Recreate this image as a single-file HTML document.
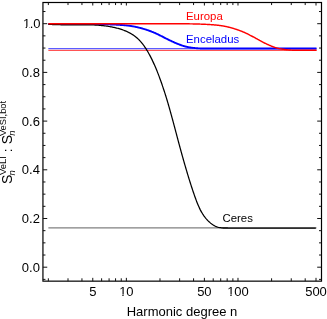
<!DOCTYPE html><html><head><meta charset="utf-8"><style>html,body{margin:0;padding:0;background:#fff}</style></head><body><svg width="327" height="319" viewBox="0 0 327 319" style="display:block;will-change:transform"><rect x="0" y="0" width="327" height="319" fill="#fff"/><line x1="48.35" x2="316.51" y1="227.95" y2="227.95" stroke="#808080" stroke-width="1.2"/><line x1="48.35" x2="316.51" y1="50.35" y2="50.35" stroke="#ff0000" stroke-width="0.8"/><line x1="48.35" x2="316.51" y1="48.7" y2="48.7" stroke="#0000ff" stroke-width="0.8"/><path d="M48.35,23.97 L48.80,23.97 L49.25,23.97 L49.69,23.98 L50.14,23.98 L50.59,23.98 L51.04,23.98 L51.48,23.99 L51.93,23.99 L52.38,23.99 L52.83,23.99 L53.28,23.99 L53.72,23.99 L54.17,24.00 L54.62,24.00 L55.07,24.00 L55.51,24.00 L55.96,24.00 L56.41,24.00 L56.86,24.00 L57.30,24.00 L57.75,24.00 L58.20,24.00 L58.65,24.00 L59.10,24.00 L59.54,24.00 L59.99,24.01 L60.44,24.01 L60.89,24.01 L61.33,24.01 L61.78,24.01 L62.23,24.01 L62.68,24.01 L63.12,24.01 L63.57,24.01 L64.02,24.01 L64.47,24.01 L64.91,24.01 L65.36,24.01 L65.81,24.01 L66.26,24.01 L66.71,24.01 L67.15,24.01 L67.60,24.01 L68.05,24.01 L68.50,24.01 L68.94,24.01 L69.39,24.01 L69.84,24.01 L70.29,24.01 L70.73,24.01 L71.18,24.01 L71.63,24.01 L72.08,24.01 L72.53,24.01 L72.97,24.01 L73.42,24.01 L73.87,24.01 L74.32,24.01 L74.76,24.01 L75.21,24.01 L75.66,24.01 L76.11,24.01 L76.55,24.01 L77.00,24.01 L77.45,24.01 L77.90,24.01 L78.35,24.01 L78.79,24.01 L79.24,24.01 L79.69,24.01 L80.14,24.01 L80.58,24.01 L81.03,24.01 L81.48,24.01 L81.93,24.01 L82.37,24.01 L82.82,24.01 L83.27,24.01 L83.72,24.01 L84.17,24.01 L84.61,24.01 L85.06,24.01 L85.51,24.01 L85.96,24.02 L86.40,24.02 L86.85,24.02 L87.30,24.02 L87.75,24.02 L88.19,24.03 L88.64,24.03 L89.09,24.03 L89.54,24.04 L89.98,24.04 L90.43,24.04 L90.88,24.05 L91.33,24.05 L91.78,24.06 L92.22,24.06 L92.67,24.06 L93.12,24.07 L93.57,24.07 L94.01,24.08 L94.46,24.08 L94.91,24.09 L95.36,24.10 L95.80,24.10 L96.25,24.11 L96.70,24.11 L97.15,24.12 L97.60,24.13 L98.04,24.13 L98.49,24.14 L98.94,24.15 L99.39,24.16 L99.83,24.16 L100.28,24.17 L100.73,24.18 L101.18,24.19 L101.62,24.20 L102.07,24.21 L102.52,24.22 L102.97,24.23 L103.42,24.24 L103.86,24.25 L104.31,24.26 L104.76,24.27 L105.21,24.28 L105.65,24.29 L106.10,24.30 L106.55,24.32 L107.00,24.33 L107.44,24.34 L107.89,24.35 L108.34,24.37 L108.79,24.38 L109.23,24.40 L109.68,24.41 L110.13,24.43 L110.58,24.44 L111.03,24.46 L111.47,24.48 L111.92,24.49 L112.37,24.51 L112.82,24.53 L113.26,24.55 L113.71,24.57 L114.16,24.59 L114.61,24.61 L115.05,24.63 L115.50,24.65 L115.95,24.67 L116.40,24.70 L116.85,24.72 L117.29,24.74 L117.74,24.77 L118.19,24.79 L118.64,24.82 L119.08,24.85 L119.53,24.88 L119.98,24.90 L120.43,24.93 L120.87,24.97 L121.32,25.00 L121.77,25.03 L122.22,25.06 L122.67,25.10 L123.11,25.13 L123.56,25.17 L124.01,25.21 L124.46,25.25 L124.90,25.29 L125.35,25.33 L125.80,25.38 L126.25,25.43 L126.69,25.47 L127.14,25.52 L127.59,25.57 L128.04,25.63 L128.49,25.68 L128.93,25.74 L129.38,25.80 L129.83,25.86 L130.28,25.93 L130.72,25.99 L131.17,26.06 L131.62,26.13 L132.07,26.20 L132.51,26.28 L132.96,26.35 L133.41,26.43 L133.86,26.51 L134.30,26.60 L134.75,26.69 L135.20,26.78 L135.65,26.87 L136.10,26.96 L136.54,27.06 L136.99,27.16 L137.44,27.26 L137.89,27.37 L138.33,27.47 L138.78,27.58 L139.23,27.70 L139.68,27.81 L140.12,27.93 L140.57,28.04 L141.02,28.16 L141.47,28.28 L141.92,28.41 L142.36,28.53 L142.81,28.66 L143.26,28.79 L143.71,28.92 L144.15,29.05 L144.60,29.19 L145.05,29.32 L145.50,29.46 L145.94,29.60 L146.39,29.75 L146.84,29.89 L147.29,30.04 L147.74,30.19 L148.18,30.35 L148.63,30.50 L149.08,30.66 L149.53,30.83 L149.97,30.99 L150.42,31.16 L150.87,31.33 L151.32,31.50 L151.76,31.68 L152.21,31.85 L152.66,32.04 L153.11,32.22 L153.55,32.41 L154.00,32.60 L154.45,32.79 L154.90,32.99 L155.35,33.19 L155.79,33.39 L156.24,33.59 L156.69,33.80 L157.14,34.01 L157.58,34.22 L158.03,34.43 L158.48,34.65 L158.93,34.87 L159.37,35.09 L159.82,35.31 L160.27,35.54 L160.72,35.76 L161.17,35.99 L161.61,36.22 L162.06,36.44 L162.51,36.67 L162.96,36.90 L163.40,37.13 L163.85,37.36 L164.30,37.59 L164.75,37.82 L165.19,38.05 L165.64,38.28 L166.09,38.51 L166.54,38.74 L166.99,38.96 L167.43,39.19 L167.88,39.41 L168.33,39.63 L168.78,39.85 L169.22,40.07 L169.67,40.29 L170.12,40.51 L170.57,40.72 L171.01,40.93 L171.46,41.14 L171.91,41.35 L172.36,41.56 L172.80,41.76 L173.25,41.97 L173.70,42.17 L174.15,42.37 L174.60,42.56 L175.04,42.76 L175.49,42.95 L175.94,43.14 L176.39,43.33 L176.83,43.51 L177.28,43.70 L177.73,43.88 L178.18,44.06 L178.62,44.23 L179.07,44.41 L179.52,44.58 L179.97,44.75 L180.42,44.92 L180.86,45.09 L181.31,45.25 L181.76,45.41 L182.21,45.57 L182.65,45.72 L183.10,45.86 L183.55,46.00 L184.00,46.13 L184.44,46.25 L184.89,46.37 L185.34,46.49 L185.79,46.60 L186.24,46.70 L186.68,46.80 L187.13,46.90 L187.58,46.99 L188.03,47.08 L188.47,47.16 L188.92,47.24 L189.37,47.32 L189.82,47.39 L190.26,47.46 L190.71,47.53 L191.16,47.59 L191.61,47.65 L192.06,47.71 L192.50,47.77 L192.95,47.82 L193.40,47.88 L193.85,47.93 L194.29,47.98 L194.74,48.02 L195.19,48.07 L195.64,48.11 L196.08,48.15 L196.53,48.19 L196.98,48.23 L197.43,48.27 L197.87,48.30 L198.32,48.33 L198.77,48.36 L199.22,48.39 L199.67,48.41 L200.11,48.43 L200.56,48.45 L201.01,48.47 L201.46,48.48 L201.90,48.49 L202.35,48.50 L202.80,48.51 L203.25,48.51 L203.69,48.52 L204.14,48.52 L204.59,48.52 L205.04,48.54 L205.49,48.55 L205.93,48.55 L206.38,48.55 L206.83,48.54 L207.28,48.55 L207.72,48.55 L208.17,48.55 L208.62,48.55 L209.07,48.55 L209.51,48.54 L209.96,48.55 L210.41,48.55 L210.86,48.55 L211.31,48.55 L211.75,48.55 L212.20,48.55 L212.65,48.55 L213.10,48.55 L213.54,48.55 L213.99,48.55 L214.44,48.55 L214.89,48.55 L215.33,48.55 L215.78,48.55 L216.23,48.55 L216.68,48.55 L217.12,48.55 L217.57,48.55 L218.02,48.55 L218.47,48.55 L218.92,48.55 L219.36,48.55 L219.81,48.55 L220.26,48.55 L220.71,48.55 L221.15,48.55 L221.60,48.55 L222.05,48.55 L222.50,48.55 L222.94,48.55 L223.39,48.55 L223.84,48.55 L224.29,48.55 L224.74,48.55 L225.18,48.55 L225.63,48.55 L226.08,48.55 L226.53,48.55 L226.97,48.55 L227.42,48.55 L227.87,48.55 L228.32,48.55 L228.76,48.55 L229.21,48.55 L229.66,48.55 L230.11,48.55 L230.56,48.55 L231.00,48.55 L231.45,48.55 L231.90,48.55 L232.35,48.55 L232.79,48.55 L233.24,48.55 L233.69,48.55 L234.14,48.55 L234.58,48.55 L235.03,48.55 L235.48,48.55 L235.93,48.55 L236.37,48.55 L236.82,48.55 L237.27,48.55 L237.72,48.55 L238.17,48.55 L238.61,48.55 L239.06,48.55 L239.51,48.55 L239.96,48.55 L240.40,48.55 L240.85,48.55 L241.30,48.55 L241.75,48.55 L242.19,48.55 L242.64,48.55 L243.09,48.55 L243.54,48.55 L243.99,48.55 L244.43,48.55 L244.88,48.55 L245.33,48.55 L245.78,48.55 L246.22,48.55 L246.67,48.55 L247.12,48.55 L247.57,48.55 L248.01,48.55 L248.46,48.55 L248.91,48.55 L249.36,48.55 L249.81,48.55 L250.25,48.55 L250.70,48.55 L251.15,48.55 L251.60,48.55 L252.04,48.55 L252.49,48.55 L252.94,48.55 L253.39,48.55 L253.83,48.55 L254.28,48.55 L254.73,48.55 L255.18,48.55 L255.63,48.55 L256.07,48.55 L256.52,48.55 L256.97,48.55 L257.42,48.55 L257.86,48.55 L258.31,48.55 L258.76,48.55 L259.21,48.55 L259.65,48.55 L260.10,48.55 L260.55,48.55 L261.00,48.55 L261.44,48.55 L261.89,48.55 L262.34,48.55 L262.79,48.55 L263.24,48.55 L263.68,48.55 L264.13,48.55 L264.58,48.55 L265.03,48.55 L265.47,48.55 L265.92,48.55 L266.37,48.55 L266.82,48.55 L267.26,48.55 L267.71,48.55 L268.16,48.55 L268.61,48.55 L269.06,48.55 L269.50,48.55 L269.95,48.55 L270.40,48.55 L270.85,48.55 L271.29,48.55 L271.74,48.55 L272.19,48.55 L272.64,48.55 L273.08,48.55 L273.53,48.55 L273.98,48.55 L274.43,48.55 L274.88,48.55 L275.32,48.55 L275.77,48.55 L276.22,48.55 L276.67,48.55 L277.11,48.55 L277.56,48.55 L278.01,48.55 L278.46,48.55 L278.90,48.55 L279.35,48.55 L279.80,48.55 L280.25,48.55 L280.69,48.55 L281.14,48.55 L281.59,48.55 L282.04,48.55 L282.49,48.55 L282.93,48.55 L283.38,48.55 L283.83,48.55 L284.28,48.55 L284.72,48.55 L285.17,48.55 L285.62,48.55 L286.07,48.55 L286.51,48.55 L286.96,48.55 L287.41,48.55 L287.86,48.55 L288.31,48.55 L288.75,48.55 L289.20,48.55 L289.65,48.55 L290.10,48.55 L290.54,48.55 L290.99,48.55 L291.44,48.55 L291.89,48.55 L292.33,48.55 L292.78,48.55 L293.23,48.55 L293.68,48.55 L294.13,48.55 L294.57,48.55 L295.02,48.55 L295.47,48.55 L295.92,48.55 L296.36,48.55 L296.81,48.55 L297.26,48.55 L297.71,48.55 L298.15,48.55 L298.60,48.55 L299.05,48.55 L299.50,48.55 L299.95,48.55 L300.39,48.55 L300.84,48.55 L301.29,48.55 L301.74,48.55 L302.18,48.55 L302.63,48.55 L303.08,48.55 L303.53,48.55 L303.97,48.55 L304.42,48.55 L304.87,48.55 L305.32,48.55 L305.76,48.55 L306.21,48.55 L306.66,48.55 L307.11,48.55 L307.56,48.55 L308.00,48.55 L308.45,48.55 L308.90,48.55 L309.35,48.55 L309.79,48.55 L310.24,48.55 L310.69,48.55 L311.14,48.55 L311.58,48.55 L312.03,48.55 L312.48,48.55 L312.93,48.55 L313.38,48.55 L313.82,48.55 L314.27,48.55 L314.72,48.55 L315.17,48.55 L315.61,48.55 L316.06,48.55 L316.51,48.55" fill="none" stroke="#0000ff" stroke-width="1.9"/><path d="M48.35,24.28 L49.16,24.34 L50.00,24.40 L50.84,24.45 L51.68,24.49 L52.52,24.53 L53.36,24.57 L54.20,24.61 L55.04,24.64 L55.88,24.66 L56.72,24.69 L57.56,24.71 L58.39,24.73 L59.23,24.74 L60.07,24.75 L60.90,24.76 L61.74,24.77 L62.57,24.78 L63.40,24.78 L64.24,24.79 L65.07,24.79 L65.90,24.79 L66.74,24.79 L67.57,24.79 L68.40,24.79 L69.23,24.79 L70.06,24.79 L70.89,24.79 L71.72,24.79 L72.55,24.79 L73.38,24.79 L74.21,24.79 L75.04,24.79 L75.87,24.79 L76.70,24.79 L77.53,24.79 L78.36,24.79 L79.19,24.79 L80.02,24.79 L80.85,24.79 L81.68,24.79 L82.51,24.79 L83.33,24.79 L84.16,24.79 L84.99,24.79 L85.82,24.79 L86.65,24.79 L87.48,24.79 L88.31,24.79 L89.14,24.79 L89.97,24.80 L90.80,24.83 L91.63,24.86 L92.46,24.89 L93.29,24.93 L94.12,24.97 L94.95,25.01 L95.78,25.06 L96.61,25.11 L97.44,25.17 L98.27,25.23 L99.11,25.29 L99.94,25.36 L100.77,25.44 L101.61,25.52 L102.44,25.60 L103.27,25.69 L104.11,25.79 L104.94,25.89 L105.78,26.00 L106.61,26.12 L107.45,26.24 L108.29,26.36 L109.12,26.50 L109.96,26.64 L110.79,26.78 L111.63,26.94 L112.46,27.10 L113.29,27.27 L114.12,27.45 L114.94,27.63 L115.77,27.83 L116.59,28.03 L117.40,28.24 L118.22,28.46 L119.03,28.69 L119.83,28.93 L120.63,29.18 L121.43,29.44 L122.22,29.70 L123.00,29.98 L123.78,30.27 L124.55,30.57 L125.32,30.88 L126.08,31.20 L126.83,31.53 L127.58,31.88 L128.31,32.23 L129.04,32.60 L129.76,32.98 L130.48,33.37 L131.18,33.78 L131.88,34.19 L132.56,34.62 L133.24,35.07 L133.90,35.52 L134.56,35.99 L135.20,36.47 L135.83,36.97 L136.45,37.48 L137.06,38.01 L137.66,38.55 L138.25,39.10 L138.83,39.67 L139.40,40.24 L139.95,40.83 L140.50,41.43 L141.04,42.04 L141.57,42.66 L142.09,43.30 L142.60,43.94 L143.10,44.59 L143.59,45.25 L144.08,45.92 L144.55,46.59 L145.02,47.28 L145.48,47.97 L145.93,48.66 L146.38,49.37 L146.82,50.08 L147.25,50.79 L147.68,51.51 L148.10,52.24 L148.51,52.97 L148.92,53.70 L149.32,54.43 L149.72,55.17 L150.11,55.91 L150.50,56.66 L150.88,57.40 L151.26,58.15 L151.64,58.89 L152.01,59.64 L152.37,60.39 L152.72,61.14 L153.06,61.88 L153.40,62.63 L153.74,63.38 L154.08,64.12 L154.41,64.87 L154.74,65.62 L155.06,66.36 L155.39,67.11 L155.70,67.86 L156.02,68.61 L156.33,69.36 L156.64,70.11 L156.95,70.86 L157.25,71.61 L157.56,72.37 L157.85,73.12 L158.15,73.87 L158.44,74.63 L158.73,75.39 L159.02,76.14 L159.31,76.90 L159.59,77.66 L159.87,78.42 L160.15,79.19 L160.43,79.95 L160.70,80.72 L160.97,81.48 L161.24,82.25 L161.51,83.02 L161.77,83.79 L162.04,84.57 L162.30,85.34 L162.55,86.12 L162.81,86.89 L163.08,87.67 L163.34,88.45 L163.60,89.23 L163.86,90.01 L164.12,90.79 L164.38,91.57 L164.63,92.36 L164.89,93.14 L165.14,93.93 L165.39,94.72 L165.64,95.50 L165.89,96.29 L166.13,97.08 L166.37,97.87 L166.62,98.67 L166.86,99.46 L167.10,100.25 L167.34,101.05 L167.57,101.84 L167.81,102.64 L168.04,103.43 L168.27,104.23 L168.50,105.03 L168.73,105.82 L168.96,106.62 L169.19,107.42 L169.42,108.22 L169.64,109.02 L169.87,109.82 L170.09,110.62 L170.31,111.43 L170.53,112.23 L170.75,113.03 L170.97,113.83 L171.19,114.64 L171.41,115.44 L171.64,116.25 L171.86,117.05 L172.08,117.85 L172.30,118.66 L172.52,119.46 L172.74,120.27 L172.96,121.07 L173.17,121.88 L173.39,122.68 L173.61,123.49 L173.82,124.30 L174.04,125.10 L174.25,125.91 L174.47,126.71 L174.68,127.52 L174.90,128.32 L175.11,129.13 L175.33,129.93 L175.54,130.74 L175.75,131.54 L175.97,132.35 L176.18,133.15 L176.39,133.96 L176.60,134.76 L176.82,135.56 L177.03,136.37 L177.24,137.17 L177.45,137.97 L177.67,138.77 L177.88,139.58 L178.09,140.38 L178.30,141.18 L178.52,141.98 L178.73,142.78 L178.94,143.58 L179.16,144.38 L179.38,145.18 L179.59,145.98 L179.81,146.78 L180.03,147.58 L180.25,148.38 L180.46,149.18 L180.68,149.98 L180.90,150.77 L181.12,151.57 L181.34,152.37 L181.56,153.17 L181.78,153.96 L182.00,154.76 L182.23,155.56 L182.45,156.35 L182.67,157.15 L182.89,157.95 L183.12,158.74 L183.34,159.54 L183.57,160.33 L183.79,161.13 L184.02,161.92 L184.25,162.72 L184.48,163.51 L184.71,164.30 L184.94,165.10 L185.17,165.89 L185.40,166.68 L185.63,167.48 L185.86,168.27 L186.10,169.06 L186.33,169.86 L186.57,170.65 L186.80,171.44 L187.03,172.23 L187.27,173.02 L187.50,173.81 L187.74,174.61 L187.98,175.40 L188.22,176.19 L188.46,176.98 L188.70,177.77 L188.94,178.56 L189.19,179.35 L189.43,180.14 L189.68,180.93 L189.93,181.72 L190.18,182.51 L190.43,183.30 L190.68,184.09 L190.93,184.88 L191.19,185.67 L191.44,186.46 L191.70,187.25 L191.96,188.03 L192.22,188.82 L192.48,189.61 L192.75,190.40 L193.01,191.19 L193.28,191.98 L193.55,192.76 L193.82,193.55 L194.09,194.34 L194.36,195.13 L194.64,195.92 L194.92,196.70 L195.20,197.49 L195.48,198.28 L195.76,199.06 L196.05,199.85 L196.34,200.64 L196.64,201.42 L196.94,202.20 L197.25,202.98 L197.56,203.76 L197.88,204.54 L198.21,205.31 L198.54,206.08 L198.88,206.84 L199.23,207.60 L199.59,208.36 L199.96,209.11 L200.33,209.86 L200.72,210.60 L201.12,211.34 L201.53,212.07 L201.95,212.79 L202.38,213.50 L202.83,214.21 L203.29,214.91 L203.76,215.61 L204.25,216.29 L204.75,216.97 L205.27,217.64 L205.81,218.30 L206.36,218.94 L206.94,219.58 L207.52,220.21 L208.13,220.83 L208.76,221.44 L209.41,222.03 L210.07,222.61 L210.75,223.18 L211.44,223.72 L212.14,224.24 L212.85,224.74 L213.56,225.20 L214.27,225.64 L214.98,226.03 L215.68,226.39 L216.37,226.70 L217.05,226.97 L217.73,227.19 L218.41,227.37 L219.10,227.51 L219.81,227.63 L220.55,227.71 L221.34,227.78 L222.17,227.83 L223.07,227.87 L224.03,227.90 L225.08,227.93 L226.21,227.96 L227.34,227.99 L228.38,228.02 L229.23,228.05 L229.78,228.05 L229.94,228.05 L229.64,228.05 L228.95,228.05 L227.98,228.05 L226.84,228.05 L225.64,228.05 L224.50,228.05 L223.53,228.05 L222.83,228.05 L222.52,228.05 L222.68,228.05 L223.24,228.05 L224.10,228.05 L225.15,228.05 L226.29,228.05 L227.42,228.05 L228.43,228.05 L229.35,228.05 L230.19,228.05 L230.98,228.05 L231.75,228.05 L232.52,228.05 L233.31,228.05 L234.11,228.05 L234.93,228.05 L235.75,228.05 L236.58,228.05 L237.42,228.05 L238.26,228.05 L239.10,228.05 L239.95,228.05 L240.79,228.05 L241.63,228.05 L242.47,228.05 L243.30,228.05 L244.14,228.05 L244.98,228.05 L245.81,228.05 L246.65,228.05 L247.48,228.05 L248.32,228.05 L249.15,228.05 L249.98,228.05 L250.81,228.05 L251.65,228.05 L252.48,228.05 L253.31,228.05 L254.14,228.05 L254.98,228.05 L255.81,228.05 L256.64,228.05 L257.47,228.05 L258.30,228.05 L259.14,228.05 L259.97,228.05 L260.80,228.05 L261.64,228.05 L262.47,228.05 L263.30,228.05 L264.13,228.05 L264.97,228.05 L265.80,228.05 L266.63,228.05 L267.47,228.05 L268.30,228.05 L269.13,228.05 L269.97,228.05 L270.80,228.05 L271.63,228.05 L272.47,228.05 L273.30,228.05 L274.13,228.05 L274.97,228.05 L275.80,228.05 L276.64,228.05 L277.47,228.05 L278.30,228.05 L279.14,228.05 L279.97,228.05 L280.80,228.05 L281.64,228.05 L282.47,228.05 L283.31,228.05 L284.14,228.05 L284.97,228.05 L285.81,228.05 L286.64,228.05 L287.48,228.05 L288.31,228.05 L289.14,228.05 L289.98,228.05 L290.81,228.05 L291.64,228.05 L292.48,228.05 L293.31,228.05 L294.15,228.05 L294.98,228.05 L295.81,228.05 L296.65,228.05 L297.48,228.05 L298.31,228.05 L299.15,228.05 L299.98,228.05 L300.82,228.05 L301.65,228.05 L302.48,228.05 L303.32,228.05 L304.15,228.05 L304.98,228.05 L305.82,228.05 L306.65,228.05 L307.48,228.05 L308.32,228.05 L309.15,228.05 L309.98,228.05 L310.81,228.05 L311.65,228.05 L312.48,228.05 L313.31,228.05 L314.14,228.05 L314.98,228.05 L315.81,228.05" fill="none" stroke="#000" stroke-width="1.25"/><path d="M48.35,23.65 L48.80,23.65 L49.25,23.65 L49.69,23.65 L50.14,23.65 L50.59,23.65 L51.04,23.65 L51.48,23.65 L51.93,23.65 L52.38,23.65 L52.83,23.65 L53.28,23.65 L53.72,23.65 L54.17,23.65 L54.62,23.65 L55.07,23.65 L55.51,23.65 L55.96,23.65 L56.41,23.65 L56.86,23.65 L57.30,23.65 L57.75,23.65 L58.20,23.65 L58.65,23.65 L59.10,23.65 L59.54,23.65 L59.99,23.65 L60.44,23.65 L60.89,23.65 L61.33,23.65 L61.78,23.65 L62.23,23.65 L62.68,23.65 L63.12,23.65 L63.57,23.65 L64.02,23.65 L64.47,23.65 L64.91,23.65 L65.36,23.65 L65.81,23.65 L66.26,23.65 L66.71,23.65 L67.15,23.65 L67.60,23.65 L68.05,23.65 L68.50,23.65 L68.94,23.65 L69.39,23.65 L69.84,23.65 L70.29,23.65 L70.73,23.65 L71.18,23.65 L71.63,23.65 L72.08,23.65 L72.53,23.65 L72.97,23.65 L73.42,23.65 L73.87,23.65 L74.32,23.65 L74.76,23.65 L75.21,23.65 L75.66,23.65 L76.11,23.65 L76.55,23.65 L77.00,23.65 L77.45,23.65 L77.90,23.65 L78.35,23.65 L78.79,23.65 L79.24,23.65 L79.69,23.65 L80.14,23.65 L80.58,23.65 L81.03,23.65 L81.48,23.65 L81.93,23.65 L82.37,23.65 L82.82,23.65 L83.27,23.65 L83.72,23.65 L84.17,23.65 L84.61,23.65 L85.06,23.65 L85.51,23.65 L85.96,23.65 L86.40,23.65 L86.85,23.65 L87.30,23.65 L87.75,23.65 L88.19,23.65 L88.64,23.65 L89.09,23.65 L89.54,23.65 L89.98,23.65 L90.43,23.65 L90.88,23.65 L91.33,23.65 L91.78,23.65 L92.22,23.65 L92.67,23.65 L93.12,23.65 L93.57,23.65 L94.01,23.65 L94.46,23.65 L94.91,23.65 L95.36,23.65 L95.80,23.65 L96.25,23.65 L96.70,23.65 L97.15,23.65 L97.60,23.65 L98.04,23.65 L98.49,23.65 L98.94,23.65 L99.39,23.65 L99.83,23.65 L100.28,23.65 L100.73,23.65 L101.18,23.65 L101.62,23.65 L102.07,23.65 L102.52,23.65 L102.97,23.65 L103.42,23.65 L103.86,23.65 L104.31,23.65 L104.76,23.65 L105.21,23.65 L105.65,23.65 L106.10,23.65 L106.55,23.65 L107.00,23.65 L107.44,23.65 L107.89,23.65 L108.34,23.65 L108.79,23.65 L109.23,23.65 L109.68,23.65 L110.13,23.65 L110.58,23.65 L111.03,23.65 L111.47,23.65 L111.92,23.65 L112.37,23.65 L112.82,23.65 L113.26,23.65 L113.71,23.65 L114.16,23.65 L114.61,23.65 L115.05,23.65 L115.50,23.65 L115.95,23.65 L116.40,23.65 L116.85,23.65 L117.29,23.65 L117.74,23.65 L118.19,23.65 L118.64,23.65 L119.08,23.65 L119.53,23.65 L119.98,23.65 L120.43,23.65 L120.87,23.65 L121.32,23.65 L121.77,23.65 L122.22,23.65 L122.67,23.65 L123.11,23.65 L123.56,23.65 L124.01,23.65 L124.46,23.65 L124.90,23.65 L125.35,23.65 L125.80,23.65 L126.25,23.65 L126.69,23.65 L127.14,23.65 L127.59,23.65 L128.04,23.65 L128.49,23.65 L128.93,23.65 L129.38,23.65 L129.83,23.65 L130.28,23.65 L130.72,23.65 L131.17,23.65 L131.62,23.65 L132.07,23.65 L132.51,23.65 L132.96,23.65 L133.41,23.65 L133.86,23.65 L134.30,23.65 L134.75,23.65 L135.20,23.65 L135.65,23.65 L136.10,23.65 L136.54,23.65 L136.99,23.65 L137.44,23.65 L137.89,23.65 L138.33,23.65 L138.78,23.65 L139.23,23.65 L139.68,23.65 L140.12,23.65 L140.57,23.66 L141.02,23.66 L141.47,23.67 L141.92,23.67 L142.36,23.67 L142.81,23.68 L143.26,23.68 L143.71,23.68 L144.15,23.69 L144.60,23.69 L145.05,23.69 L145.50,23.69 L145.94,23.70 L146.39,23.70 L146.84,23.70 L147.29,23.70 L147.74,23.70 L148.18,23.71 L148.63,23.71 L149.08,23.71 L149.53,23.71 L149.97,23.71 L150.42,23.71 L150.87,23.71 L151.32,23.71 L151.76,23.71 L152.21,23.71 L152.66,23.71 L153.11,23.71 L153.55,23.72 L154.00,23.72 L154.45,23.72 L154.90,23.72 L155.35,23.72 L155.79,23.72 L156.24,23.72 L156.69,23.72 L157.14,23.72 L157.58,23.72 L158.03,23.72 L158.48,23.72 L158.93,23.72 L159.37,23.72 L159.82,23.72 L160.27,23.72 L160.72,23.72 L161.17,23.72 L161.61,23.72 L162.06,23.72 L162.51,23.72 L162.96,23.72 L163.40,23.72 L163.85,23.72 L164.30,23.72 L164.75,23.72 L165.19,23.72 L165.64,23.72 L166.09,23.72 L166.54,23.72 L166.99,23.72 L167.43,23.72 L167.88,23.72 L168.33,23.72 L168.78,23.72 L169.22,23.72 L169.67,23.72 L170.12,23.72 L170.57,23.72 L171.01,23.72 L171.46,23.72 L171.91,23.72 L172.36,23.72 L172.80,23.72 L173.25,23.72 L173.70,23.72 L174.15,23.72 L174.60,23.72 L175.04,23.72 L175.49,23.72 L175.94,23.72 L176.39,23.72 L176.83,23.72 L177.28,23.72 L177.73,23.72 L178.18,23.72 L178.62,23.73 L179.07,23.73 L179.52,23.73 L179.97,23.73 L180.42,23.74 L180.86,23.74 L181.31,23.74 L181.76,23.75 L182.21,23.75 L182.65,23.75 L183.10,23.76 L183.55,23.76 L184.00,23.77 L184.44,23.77 L184.89,23.78 L185.34,23.78 L185.79,23.79 L186.24,23.79 L186.68,23.80 L187.13,23.81 L187.58,23.81 L188.03,23.82 L188.47,23.83 L188.92,23.83 L189.37,23.84 L189.82,23.85 L190.26,23.86 L190.71,23.86 L191.16,23.87 L191.61,23.88 L192.06,23.89 L192.50,23.90 L192.95,23.91 L193.40,23.92 L193.85,23.93 L194.29,23.94 L194.74,23.95 L195.19,23.96 L195.64,23.97 L196.08,23.98 L196.53,24.00 L196.98,24.01 L197.43,24.02 L197.87,24.04 L198.32,24.05 L198.77,24.06 L199.22,24.08 L199.67,24.09 L200.11,24.11 L200.56,24.12 L201.01,24.14 L201.46,24.16 L201.90,24.17 L202.35,24.19 L202.80,24.21 L203.25,24.23 L203.69,24.25 L204.14,24.27 L204.59,24.29 L205.04,24.31 L205.49,24.33 L205.93,24.35 L206.38,24.38 L206.83,24.40 L207.28,24.42 L207.72,24.45 L208.17,24.47 L208.62,24.50 L209.07,24.53 L209.51,24.55 L209.96,24.58 L210.41,24.61 L210.86,24.64 L211.31,24.67 L211.75,24.71 L212.20,24.74 L212.65,24.77 L213.10,24.81 L213.54,24.84 L213.99,24.88 L214.44,24.92 L214.89,24.96 L215.33,25.00 L215.78,25.04 L216.23,25.09 L216.68,25.13 L217.12,25.18 L217.57,25.23 L218.02,25.28 L218.47,25.33 L218.92,25.39 L219.36,25.44 L219.81,25.50 L220.26,25.56 L220.71,25.62 L221.15,25.69 L221.60,25.76 L222.05,25.83 L222.50,25.90 L222.94,25.97 L223.39,26.05 L223.84,26.13 L224.29,26.21 L224.74,26.29 L225.18,26.38 L225.63,26.47 L226.08,26.56 L226.53,26.66 L226.97,26.76 L227.42,26.86 L227.87,26.96 L228.32,27.07 L228.76,27.18 L229.21,27.29 L229.66,27.40 L230.11,27.52 L230.56,27.64 L231.00,27.76 L231.45,27.89 L231.90,28.01 L232.35,28.14 L232.79,28.27 L233.24,28.41 L233.69,28.54 L234.14,28.68 L234.58,28.82 L235.03,28.96 L235.48,29.10 L235.93,29.24 L236.37,29.39 L236.82,29.54 L237.27,29.69 L237.72,29.84 L238.17,30.00 L238.61,30.16 L239.06,30.32 L239.51,30.48 L239.96,30.65 L240.40,30.82 L240.85,30.99 L241.30,31.17 L241.75,31.34 L242.19,31.52 L242.64,31.71 L243.09,31.90 L243.54,32.09 L243.99,32.28 L244.43,32.47 L244.88,32.67 L245.33,32.88 L245.78,33.08 L246.22,33.29 L246.67,33.50 L247.12,33.72 L247.57,33.93 L248.01,34.15 L248.46,34.38 L248.91,34.60 L249.36,34.83 L249.81,35.06 L250.25,35.30 L250.70,35.53 L251.15,35.77 L251.60,36.01 L252.04,36.26 L252.49,36.50 L252.94,36.74 L253.39,36.99 L253.83,37.24 L254.28,37.49 L254.73,37.74 L255.18,37.99 L255.63,38.24 L256.07,38.49 L256.52,38.73 L256.97,38.98 L257.42,39.23 L257.86,39.48 L258.31,39.72 L258.76,39.97 L259.21,40.21 L259.65,40.46 L260.10,40.70 L260.55,40.94 L261.00,41.18 L261.44,41.41 L261.89,41.65 L262.34,41.88 L262.79,42.11 L263.24,42.34 L263.68,42.56 L264.13,42.79 L264.58,43.01 L265.03,43.23 L265.47,43.45 L265.92,43.66 L266.37,43.87 L266.82,44.08 L267.26,44.29 L267.71,44.50 L268.16,44.70 L268.61,44.90 L269.06,45.10 L269.50,45.30 L269.95,45.49 L270.40,45.68 L270.85,45.87 L271.29,46.06 L271.74,46.25 L272.19,46.43 L272.64,46.61 L273.08,46.78 L273.53,46.96 L273.98,47.12 L274.43,47.28 L274.88,47.43 L275.32,47.58 L275.77,47.72 L276.22,47.85 L276.67,47.98 L277.11,48.10 L277.56,48.22 L278.01,48.33 L278.46,48.43 L278.90,48.54 L279.35,48.63 L279.80,48.72 L280.25,48.81 L280.69,48.90 L281.14,48.98 L281.59,49.05 L282.04,49.13 L282.49,49.20 L282.93,49.27 L283.38,49.33 L283.83,49.40 L284.28,49.46 L284.72,49.51 L285.17,49.57 L285.62,49.62 L286.07,49.68 L286.51,49.73 L286.96,49.77 L287.41,49.82 L287.86,49.86 L288.31,49.90 L288.75,49.94 L289.20,49.98 L289.65,50.01 L290.10,50.04 L290.54,50.07 L290.99,50.10 L291.44,50.12 L291.89,50.14 L292.33,50.16 L292.78,50.17 L293.23,50.19 L293.68,50.20 L294.13,50.20 L294.57,50.21 L295.02,50.21 L295.47,50.22 L295.92,50.22 L296.36,50.25 L296.81,50.25 L297.26,50.25 L297.71,50.25 L298.15,50.25 L298.60,50.25 L299.05,50.24 L299.50,50.25 L299.95,50.25 L300.39,50.24 L300.84,50.25 L301.29,50.25 L301.74,50.25 L302.18,50.25 L302.63,50.25 L303.08,50.25 L303.53,50.25 L303.97,50.25 L304.42,50.25 L304.87,50.25 L305.32,50.25 L305.76,50.25 L306.21,50.25 L306.66,50.25 L307.11,50.25 L307.56,50.25 L308.00,50.25 L308.45,50.25 L308.90,50.25 L309.35,50.25 L309.79,50.25 L310.24,50.25 L310.69,50.25 L311.14,50.25 L311.58,50.25 L312.03,50.25 L312.48,50.25 L312.93,50.25 L313.38,50.25 L313.82,50.25 L314.27,50.25 L314.72,50.25 L315.17,50.25 L315.61,50.25 L316.06,50.25 L316.51,50.25" fill="none" stroke="#ff0000" stroke-width="1.45"/><rect x="42.94" y="2.5" width="278.56" height="278.65" fill="none" stroke="#000" stroke-width="1.2"/><path d="M42.94,279.38h2.5M321.5,279.38h-2.5M42.94,267.20h4.3M321.5,267.20h-4.3M42.94,255.02h2.5M321.5,255.02h-2.5M42.94,242.85h2.5M321.5,242.85h-2.5M42.94,230.67h2.5M321.5,230.67h-2.5M42.94,218.50h4.3M321.5,218.50h-4.3M42.94,206.32h2.5M321.5,206.32h-2.5M42.94,194.15h2.5M321.5,194.15h-2.5M42.94,181.97h2.5M321.5,181.97h-2.5M42.94,169.80h4.3M321.5,169.80h-4.3M42.94,157.62h2.5M321.5,157.62h-2.5M42.94,145.45h2.5M321.5,145.45h-2.5M42.94,133.27h2.5M321.5,133.27h-2.5M42.94,121.10h4.3M321.5,121.10h-4.3M42.94,108.92h2.5M321.5,108.92h-2.5M42.94,96.75h2.5M321.5,96.75h-2.5M42.94,84.58h2.5M321.5,84.58h-2.5M42.94,72.40h4.3M321.5,72.40h-4.3M42.94,60.22h2.5M321.5,60.22h-2.5M42.94,48.05h2.5M321.5,48.05h-2.5M42.94,35.87h2.5M321.5,35.87h-2.5M42.94,23.70h4.3M321.5,23.70h-4.3M42.94,11.52h2.5M321.5,11.52h-2.5M48.35,281.15v-2.85M48.35,2.5v2.5500000000000003M68.01,281.15v-2.85M68.01,2.5v2.5500000000000003M81.95,281.15v-2.85M81.95,2.5v2.5500000000000003M92.77,281.15v-3.3M92.77,2.5v3.0M101.61,281.15v-2.85M101.61,2.5v2.5500000000000003M109.08,281.15v-2.85M109.08,2.5v2.5500000000000003M115.55,281.15v-2.85M115.55,2.5v2.5500000000000003M121.26,281.15v-2.85M121.26,2.5v2.5500000000000003M126.37,281.15v-3.3M126.37,2.5v3.0M159.97,281.15v-2.85M159.97,2.5v2.5500000000000003M179.63,281.15v-2.85M179.63,2.5v2.5500000000000003M193.57,281.15v-2.85M193.57,2.5v2.5500000000000003M204.39,281.15v-3.3M204.39,2.5v3.0M213.23,281.15v-2.85M213.23,2.5v2.5500000000000003M220.70,281.15v-2.85M220.70,2.5v2.5500000000000003M227.17,281.15v-2.85M227.17,2.5v2.5500000000000003M232.88,281.15v-2.85M232.88,2.5v2.5500000000000003M237.99,281.15v-3.3M237.99,2.5v3.0M271.59,281.15v-2.85M271.59,2.5v2.5500000000000003M291.25,281.15v-2.85M291.25,2.5v2.5500000000000003M305.19,281.15v-2.85M305.19,2.5v2.5500000000000003M316.01,281.15v-3.3M316.01,2.5v3.0" stroke="#111" stroke-width="1.0" fill="none"/><g font-family="'Liberation Sans',sans-serif" font-size="13" fill="#000"><text x="39.9" y="271.80" text-anchor="end">0.0</text><text x="39.9" y="223.10" text-anchor="end">0.2</text><text x="39.9" y="174.40" text-anchor="end">0.4</text><text x="39.9" y="125.70" text-anchor="end">0.6</text><text x="39.9" y="77.00" text-anchor="end">0.8</text><text x="39.9" y="28.30" text-anchor="end"><tspan dx="0.6">1</tspan><tspan dx="-0.6">.0</tspan></text><text x="92.77" y="295.55" text-anchor="middle">5</text><text x="126.37" y="295.55" text-anchor="middle">10</text><text x="204.39" y="295.55" text-anchor="middle">50</text><text x="237.99" y="295.55" text-anchor="middle">100</text><text x="316.01" y="295.55" text-anchor="middle">500</text><rect x="23.02" y="26.78" width="2.64" height="2.17" fill="#fff"/><rect x="26.89" y="26.78" width="2.54" height="2.17" fill="#fff"/><rect x="119.73" y="294.03" width="2.64" height="2.17" fill="#fff"/><rect x="123.60" y="294.03" width="2.54" height="2.17" fill="#fff"/><rect x="227.74" y="294.03" width="2.64" height="2.17" fill="#fff"/><rect x="231.60" y="294.03" width="2.54" height="2.17" fill="#fff"/><text x="182" y="315.6" text-anchor="middle">Harmonic degree n</text></g><g font-family="'Liberation Sans',sans-serif" font-size="11.4"><text x="186" y="19.6" fill="#ff0000">Europa</text><text x="186" y="42.6" fill="#0000ff">Enceladus</text><text x="222.5" y="221.9" fill="#000">Ceres</text></g><g transform="translate(11.9,183.1) rotate(-90)" font-family="'Liberation Sans',sans-serif" fill="#000"><text x="-0.85" y="0" font-size="14">S</text><text x="8.00" y="-5.5" font-size="9.5">VeLI</text><text x="7.60" y="3.3" font-size="9.5" font-style="italic">n</text><text x="31.2" y="0" font-size="12">:</text><text x="38.80" y="0" font-size="14">S</text><text x="47.00" y="-5.5" font-size="9.3">VeSI,bot</text><text x="47.30" y="3.3" font-size="9.5" font-style="italic">n</text></g></svg></body></html>
